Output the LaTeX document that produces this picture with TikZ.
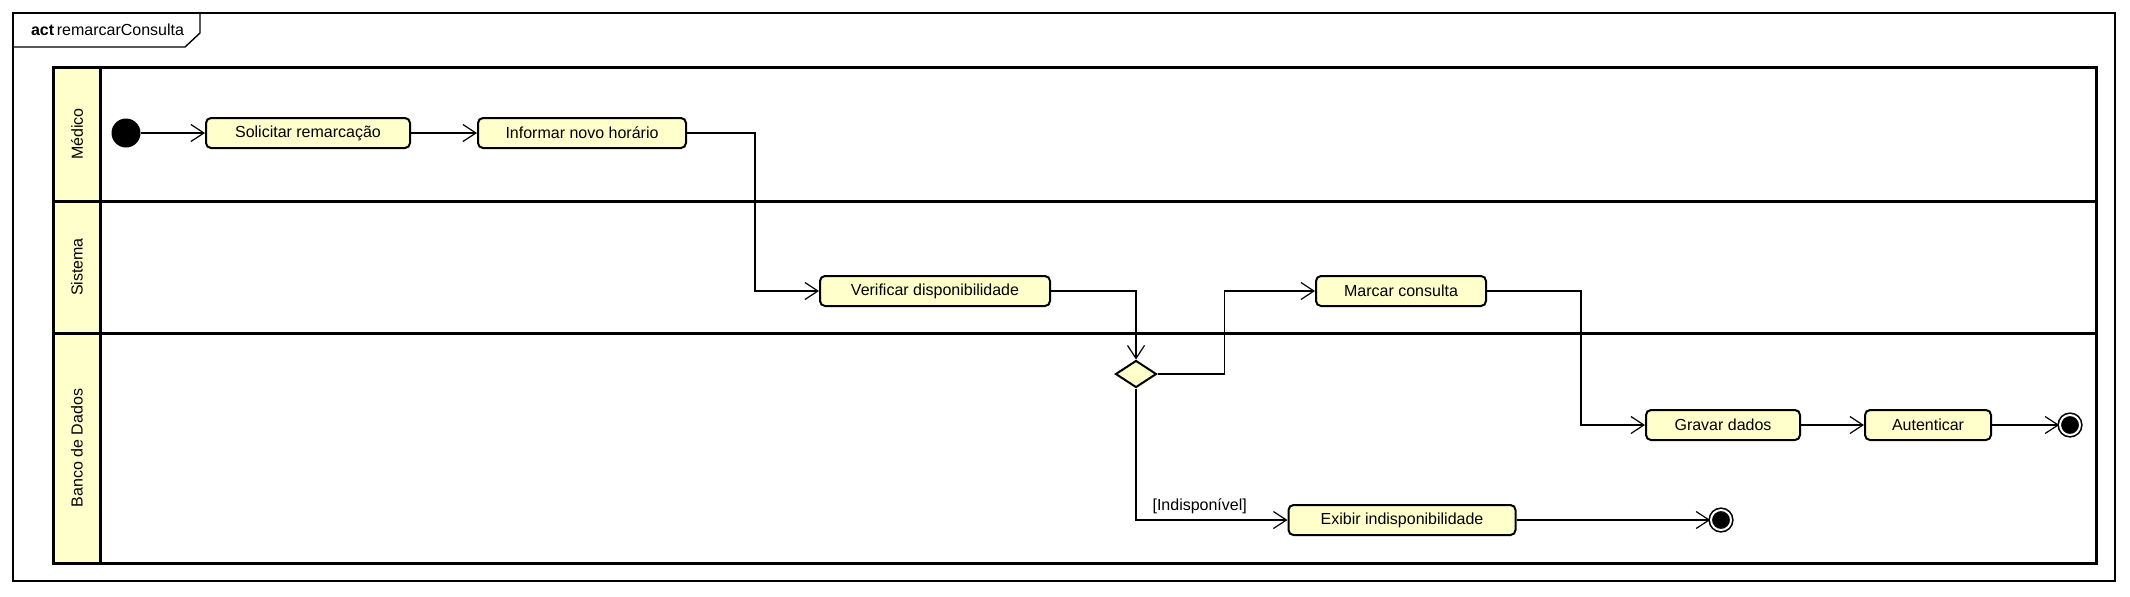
\documentclass[tikz,border=0pt]{standalone}
\usepackage{fontspec}
\setmainfont{Liberation Sans}
\usepackage{xcolor}
\usepackage{tikz}
\usetikzlibrary{
arrows.meta,
shapes.geometric
}
\definecolor{nota}{HTML}{FFFFCC}
\tikzset{
acao/.style={
rectangle,
rounded corners=2.5pt,
draw,
line width=1pt,
fill=nota,
minimum height=15pt,
inner sep=0pt,
font=\fontsize{8pt}{9.6pt}\selectfont
},
inicial/.style={
circle,
fill=black,
minimum size=14.5pt,
inner sep=0pt
},
final/.style={
circle,
draw=black,
fill=black,
double=white,
double distance=1pt,
line width=0.8pt,
minimum size=10pt,
inner sep=0pt
},
escolha/.style={
diamond,
draw,
line width=1pt,
fill=nota,
minimum width=20.5pt,
minimum height=13.5pt,
inner sep=0pt
},
raia/.style={
rotate=90,
font=\fontsize{8pt}{9.6pt}\selectfont
},
fluxo/.style={
-{Straight Barb[length=6.5pt,width=8.5pt,line width=0.6pt]},
line width=0.55pt
},
guarda/.style={
font=\fontsize{8pt}{9.6pt}\selectfont,
inner sep=0pt
}
}

\begin{document}
\begin{tikzpicture}[x=0.5pt,y=-0.5pt]

\useasboundingbox (0,0) rectangle (2130,596);

\draw[line width=0.7pt] (13,13) rectangle (2115,581);
\draw[line width=0.7pt] (13,47) -- (185,47) -- (200,33) -- (200,13);
\node[
anchor=west,
font=\fontsize{8pt}{9.6pt}\selectfont
]
(titulo) at (24,30)
{
\textbf{act}\,remarcarConsulta
};

\fill[nota] (53,67) rectangle (100,563);
\draw[line width=1.5pt] (53,67) rectangle (2096,563);
\draw[line width=1.5pt] (100,67) -- (100,563);
\draw[line width=1.5pt] (53,201) -- (2096,201);
\draw[line width=1.5pt] (53,333) -- (2096,333);

\node[raia] (medico) at (77,134) {Médico};
\node[raia] (sistema) at (77,267) {Sistema};
\node[raia] (banco) at (77,448) {Banco de Dados};

\node[inicial] (inicio) at (126,133) {};

\node[
acao,
minimum width=102pt
]
(solicitar) at (308,133)
{
Solicitar remarcação
};

\node[
acao,
minimum width=104pt
]
(informar) at (582,133)
{
Informar novo horário
};

\node[
acao,
minimum width=115pt
]
(verificar) at (935,291)
{
Verificar disponibilidade
};

\node[escolha] (decisao) at (1136,374) {};

\node[
acao,
minimum width=85pt
]
(marcar) at (1401,291)
{
Marcar consulta
};

\node[
acao,
minimum width=77pt
]
(gravar) at (1723,425)
{
Gravar dados
};

\node[
acao,
minimum width=63pt
]
(autenticar) at (1928,425)
{
Autenticar
};

\node[final] (fimA) at (2070,425) {};

\node[
acao,
minimum width=113.5pt
]
(exibir) at (1402,520)
{
Exibir indisponibilidade
};

\node[final] (fimB) at (1721,520) {};

\draw[fluxo] (inicio) -- (solicitar);
\draw[fluxo] (solicitar) -- (informar);
\draw[fluxo] (informar.east) -- ++(68,0) |- (verificar.west);
\draw[fluxo] (verificar.east) -| (decisao.north);
\draw[fluxo] (decisao.east) -- ++(67,0) |- (marcar.west);
\draw[fluxo] (marcar.east) -- ++(94,0) |- (gravar.west);
\draw[fluxo] (gravar) -- (autenticar);
\draw[fluxo] (autenticar) -- (fimA);
\draw[fluxo] (decisao.south) |- node[
guarda,
pos=0.5,
anchor=south west,
xshift=8pt,
yshift=3pt
]
{[Indisponível]} (exibir.west);
\draw[fluxo] (exibir) -- (fimB);

\end{tikzpicture}
\end{document}
